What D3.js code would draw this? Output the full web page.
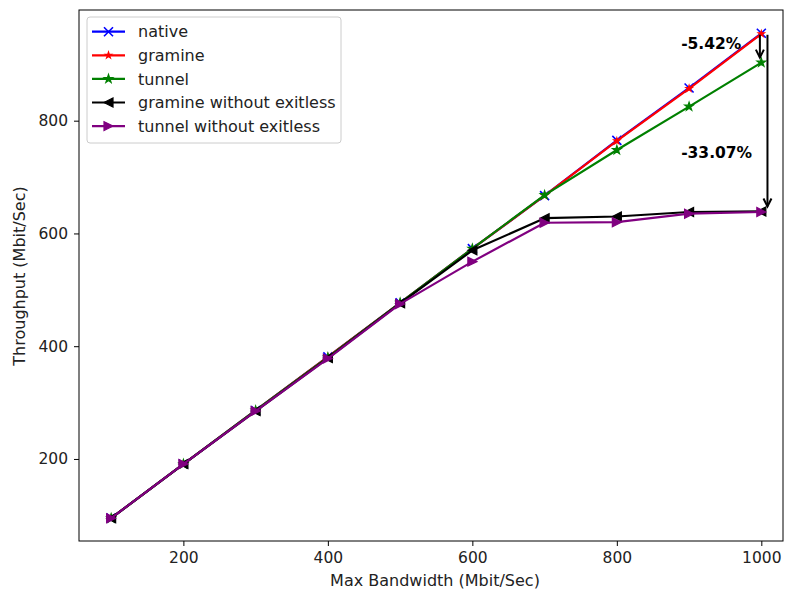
<!DOCTYPE html>
<html>
<head>
<meta charset="utf-8">
<script src="https://cdn.jsdelivr.net/npm/d3@7"></script>
<style>
  body { margin: 0; background: #fff; }
  svg text { font-family: "DejaVu Sans", sans-serif; }
</style>
</head>
<body>
<svg class="chart"></svg>
<script>
var bandwidth = [100, 200, 300, 400, 500, 600, 700, 800, 900, 1000];
var native = [95, 191, 286, 381, 477, 573, 667, 765, 858, 955];
var gramine = [95, 191, 286, 381, 477, 573, 667, 764, 857, 954];
var tunnel = [95, 191, 286, 380, 477, 573, 668, 748, 825, 903];
var gramineNoExitless = [95, 191, 285, 379, 476, 570, 627, 630, 638, 639];
var tunnelNoExitless = [95, 191, 285, 378, 475, 550, 619, 620, 635, 638];
var xTicks = [200, 400, 600, 800, 1000];
var yTicks = [200, 400, 600, 800];

var series = [
  {name: "native", values: native, color: "blue", marker: "x", size: 9},
  {name: "gramine", values: gramine, color: "red", marker: "star", size: 6.5},
  {name: "tunnel", values: tunnel, color: "green", marker: "star", size: 9},
  {name: "gramine without exitless", values: gramineNoExitless, color: "black", marker: "left", size: 9},
  {name: "tunnel without exitless", values: tunnelNoExitless, color: "purple", marker: "right", size: 9}
];

// arrows: x position, from value, to value, label and label position
var notes = [
  {x: 998, from: 955, to: 903, label: "-5.42%", lx: 889, ly: 928},
  {x: 1008.5, from: 955, to: 639, label: "-33.07%", lx: 889, ly: 733}
];

var width = 785, height = 593;
var svg = d3.select(".chart").attr("width", width).attr("height", height);

var x = d3.scaleLinear().domain([55.5, 1030]).range([79, 783]);
var y = d3.scaleLinear().domain([54.5, 996.3]).range([541, 10]);

function markerPath(type, s) {
  var h = s / 2;
  if (type === "x") return "M" + -h + "," + -h + "L" + h + "," + h + "M" + -h + "," + h + "L" + h + "," + -h;
  if (type === "left") return "M" + -h + ",0L" + h + "," + -h + "L" + h + "," + h + "Z";
  if (type === "right") return "M" + h + ",0L" + -h + "," + -h + "L" + -h + "," + h + "Z";
  var r = h, ri = r * 0.382, p = [];
  for (var i = 0; i < 10; i++) {
    var a = Math.PI / 5 * i - Math.PI / 2, rr = i % 2 ? ri : r;
    p.push([rr * Math.cos(a), rr * Math.sin(a)]);
  }
  return "M" + p.join("L") + "Z";
}

function drawMarker(g, d, cx, cy) {
  var m = g.append("path")
    .attr("d", markerPath(d.marker, d.size))
    .attr("transform", "translate(" + cx + "," + cy + ")");
  if (d.marker === "x") m.attr("fill", "none").attr("stroke", d.color).attr("stroke-width", 1.6);
  else m.attr("fill", d.color).attr("stroke", d.color).attr("stroke-width", 1.2).attr("stroke-linejoin", "miter");
}

// axes
var xAxis = svg.append("g")
  .attr("transform", "translate(0,541)")
  .call(d3.axisBottom(x).tickValues(xTicks).tickSize(5).tickPadding(6).tickFormat(d3.format("d")));
var yAxis = svg.append("g")
  .attr("transform", "translate(79,0)")
  .call(d3.axisLeft(y).tickValues(yTicks).tickSize(5).tickPadding(6).tickFormat(d3.format("d")));
[xAxis, yAxis].forEach(function(a) {
  a.select(".domain").remove();
  a.selectAll("line").attr("stroke", "#000").attr("stroke-width", 1);
  a.selectAll("text").attr("fill", "#222").style("font-size", "15.5px");
});

var line = d3.line()
  .x(function(d, i) { return x(bandwidth[i]); })
  .y(function(d) { return y(d); });

var plot = svg.append("g");
series.forEach(function(s) {
  var g = plot.append("g");
  g.append("path")
    .datum(s.values)
    .attr("d", line)
    .attr("fill", "none")
    .attr("stroke", s.color)
    .attr("stroke-width", 2.2)
    .attr("stroke-linejoin", "round");
  s.values.forEach(function(v, i) { drawMarker(g, s, x(bandwidth[i]), y(v)); });
});

// annotations
notes.forEach(function(n) {
  var ax = x(n.x), y0 = y(n.from) + 1.5, y1 = y(n.to) - 5;
  svg.append("line")
    .attr("x1", ax).attr("x2", ax).attr("y1", y0).attr("y2", y1)
    .attr("stroke", "#000").attr("stroke-width", 2);
  svg.append("path")
    .attr("d", "M" + (ax - 4) + "," + (y1 - 8) + "L" + ax + "," + y1 + "L" + (ax + 4) + "," + (y1 - 8))
    .attr("fill", "none").attr("stroke", "#000").attr("stroke-width", 2);
  svg.append("text")
    .attr("x", x(n.lx)).attr("y", y(n.ly))
    .style("font-size", "15.5px").style("font-weight", "bold")
    .text(n.label);
});

// frame
svg.append("rect")
  .attr("x", 79).attr("y", 10).attr("width", 704).attr("height", 531)
  .attr("fill", "none").attr("stroke", "#000").attr("stroke-width", 1);

// legend
var legend = svg.append("g").attr("transform", "translate(87,17)");
legend.append("rect")
  .attr("width", 254).attr("height", 126).attr("rx", 3)
  .attr("fill", "#fff").attr("fill-opacity", 0.8)
  .attr("stroke", "#ccc").attr("stroke-width", 1);
series.forEach(function(s, i) {
  var ly = 14.7 + i * 23.6;
  legend.append("line")
    .attr("x1", 5).attr("x2", 38).attr("y1", ly).attr("y2", ly)
    .attr("stroke", s.color).attr("stroke-width", 2.2);
  drawMarker(legend, s, 21.5, ly);
  legend.append("text")
    .attr("x", 51).attr("y", ly).attr("dy", "0.35em")
    .attr("fill", "#222")
    .style("font-size", "16px")
    .text(s.name);
});

// axis labels
svg.append("text")
  .attr("x", 435).attr("y", 586)
  .attr("text-anchor", "middle").attr("fill", "#222").style("font-size", "16px")
  .text("Max Bandwidth (Mbit/Sec)");
svg.append("text")
  .attr("transform", "translate(25,276) rotate(-90)")
  .attr("text-anchor", "middle").attr("fill", "#222").style("font-size", "16px")
  .text("Throughput (Mbit/Sec)");
</script>
</body>
</html>
